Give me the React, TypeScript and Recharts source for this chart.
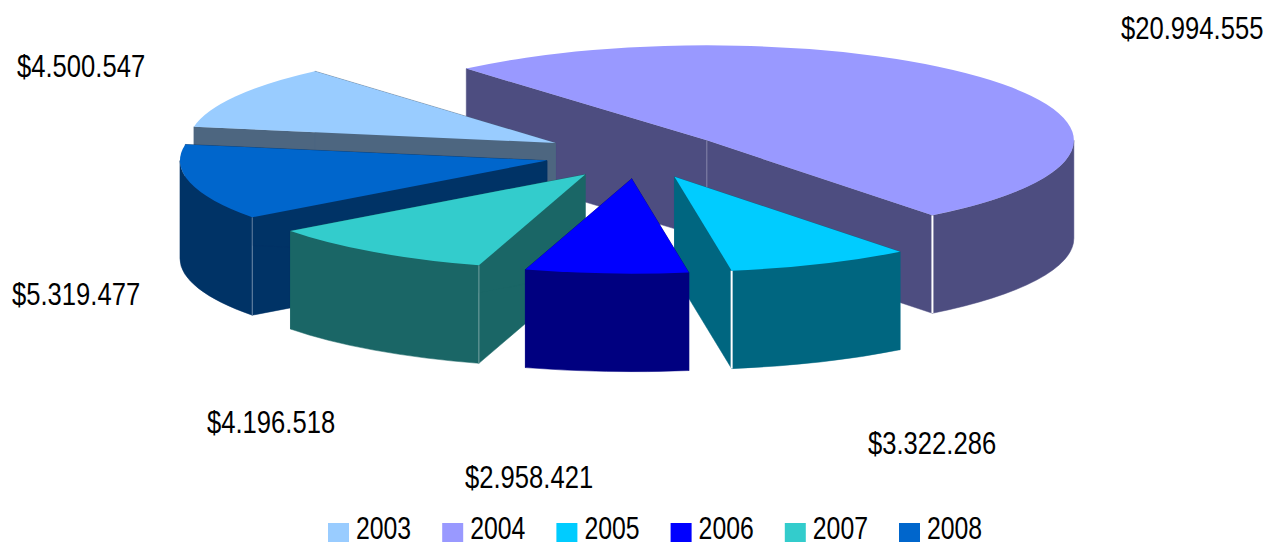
import { Legend, Pie, PieChart } from 'recharts'

const YEARS = ['2003', '2004', '2005', '2006', '2007', '2008']
const VALUES = [4500547, 20994555, 3322286, 2958421, 4196518, 5319477]
const TOP_COLORS = ['#99CCFF', '#9999FF', '#00CCFF', '#0000FF', '#33CCCC', '#0066CC']
const WALL_COLORS = ['#4D6680', '#4D4D80', '#006680', '#000080', '#1A6666', '#003366']
const EXPLODES = [0.258, 0.243, 0.25, 0.25, 0.25, 0.255]

// back to front, so nearer slices cover the walls of the ones behind them
const DRAW_ORDER = ['2004', '2003', '2008', '2005', '2007', '2006']

const LABEL_SPOTS: Record<string, [number, number]> = {
  '2003': [17, 77],
  '2004': [1121, 39],
  '2005': [868, 454],
  '2006': [465, 488],
  '2007': [207, 433],
  '2008': [12, 305],
}

const rows = YEARS.map((year, i) => ({
  name: year,
  value: VALUES[i],
  fill: TOP_COLORS[i],
  wall: WALL_COLORS[i],
  explode: EXPLODES[i],
}))

const WIDTH = 1268
const HEIGHT = 542
const RADIUS = 367
const SQUASH = 95 / 367
const DEPTH = 98
const START_ANGLE = 170.2
const FONT = '"Liberation Sans", Arial, sans-serif'

const money = (v: number) => '$' + String(v).replace(/\B(?=(\d{3})+$)/g, '.')

function Slice3D(props: any) {
  const { cx, cy, outerRadius, startAngle, endAngle, midAngle, payload, fill } = props
  const rx = outerRadius
  const ry = outerRadius * SQUASH
  const rad = (a: number) => (a * Math.PI) / 180
  const ax = cx + payload.explode * rx * Math.cos(rad(midAngle))
  const ay = cy - payload.explode * ry * Math.sin(rad(midAngle))
  const at = (a: number) => [ax + rx * Math.cos(rad(a)), ay - ry * Math.sin(rad(a))]

  const [sx, sy] = at(startAngle)
  const [ex, ey] = at(endAngle)
  const large = startAngle - endAngle > 180 ? 1 : 0
  const wall = payload.wall

  // outer wall only exists on the front half of the ellipse
  const hi = Math.min(startAngle, 0)
  const lo = Math.max(endAngle, -180)
  let outer = null
  if (hi > lo) {
    const [hx, hy] = at(hi)
    const [lx, ly] = at(lo)
    outer = `M${hx},${hy} A${rx},${ry} 0 0 1 ${lx},${ly} L${lx},${ly + DEPTH} A${rx},${ry} 0 0 0 ${hx},${hy + DEPTH} Z`
  }

  const radial = (x: number, y: number) =>
    `M${ax},${ay} L${x},${y} L${x},${y + DEPTH} L${ax},${ay + DEPTH} Z`

  const [tx, ty] = LABEL_SPOTS[payload.name]
  const whiteSeam = endAngle > -90 && endAngle < 0
  const softSeam = startAngle > -180 && startAngle < -90

  return (
    <g>
      <path d={radial(sx, sy)} fill={wall} stroke={wall} strokeWidth={0.5} />
      <path d={radial(ex, ey)} fill={wall} stroke={wall} strokeWidth={0.5} />
      {outer && <path d={outer} fill={wall} stroke={wall} strokeWidth={0.5} />}
      {whiteSeam && <line x1={ex} y1={ey} x2={ex} y2={ey + DEPTH} stroke="#fff" strokeWidth={2} />}
      {softSeam && <line x1={sx} y1={sy} x2={sx} y2={sy + DEPTH} stroke="#fff" strokeOpacity={0.4} strokeWidth={1} />}
      {large === 1 && <line x1={ax} y1={ay} x2={ax} y2={ay + DEPTH} stroke="#fff" strokeOpacity={0.3} strokeWidth={1} />}
      <path
        d={`M${ax},${ay} L${sx},${sy} A${rx},${ry} 0 ${large} 1 ${ex},${ey} Z`}
        fill={fill}
      />
      <text transform={`translate(${tx},${ty}) scale(0.84,1)`} fontFamily={FONT} fontSize={30.5} fill="#000">
        {money(payload.value)}
      </text>
    </g>
  )
}

function LegendRow() {
  return (
    <svg width={WIDTH} height={42} style={{ display: 'block', overflow: 'visible' }}>
      {YEARS.map((year, i) => (
        <g key={year} transform={`translate(${328 + i * 114.2},0)`}>
          <rect x={0} y={23} width={21} height={19} fill={TOP_COLORS[i]} />
          <text transform="translate(28,39) scale(0.8,1)" fontFamily={FONT} fontSize={31} fill="#000">
            {year}
          </text>
        </g>
      ))}
    </svg>
  )
}

export default function App() {
  return (
    <div style={{ position: 'absolute', left: 0, top: 0, width: WIDTH, height: HEIGHT, background: '#fff' }}>
      <PieChart width={WIDTH} height={HEIGHT} margin={{ top: 0, right: 0, bottom: 0, left: 0 }}>
        {DRAW_ORDER.map((year) => (
          <Pie
            key={year}
            data={rows}
            dataKey="value"
            nameKey="name"
            cx={638}
            cy={155}
            innerRadius={0}
            outerRadius={RADIUS}
            startAngle={START_ANGLE}
            endAngle={START_ANGLE - 360}
            stroke="none"
            isAnimationActive={false}
            legendType="none"
            shape={(p: any) => (p.payload.name === year ? <Slice3D {...p} /> : <g />)}
          />
        ))}
        <Legend content={() => <LegendRow />} wrapperStyle={{ left: 0, top: 500, width: WIDTH, height: 42 }} />
      </PieChart>
    </div>
  )
}
